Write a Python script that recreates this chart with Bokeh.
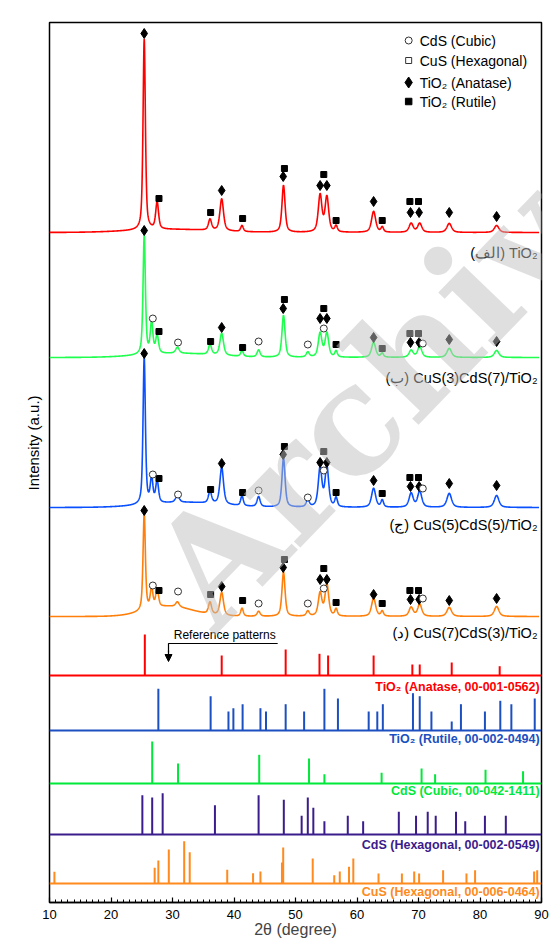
import numpy as np
from bokeh.plotting import figure
from bokeh.models import Range1d, SingleIntervalTicker, Arrow, NormalHead, Title, Label
from bokeh.core.properties import value
from bokeh.embed import file_html
from bokeh.resources import INLINE

# ---------------- data ----------------
# sample patterns: peak positions (2theta, deg), FWHM (deg) and heights (a.u. above baseline)
peak_pos = [25.4, 26.6, 27.5, 30.8, 36.1, 38.0, 41.3, 44.0, 48.05, 52.0, 54.0, 55.1, 56.6, 62.7, 64.1, 68.8, 70.2, 75.0, 82.7]
peak_fwhm = [0.45, 0.5, 0.55, 0.7, 0.6, 0.7, 0.5, 0.6, 0.6, 0.6, 0.7, 0.7, 0.5, 0.8, 0.5, 0.8, 0.8, 0.9, 0.9]
h_tio2 = [191, 0, 27, 0, 11, 32, 6, 0, 47, 0, 37, 35, 6, 21, 5, 9, 9, 9, 7]
h_cus3 = [119, 31, 18, 6, 10, 22, 6, 7, 42, 5, 24, 24, 6, 15, 4, 7, 11, 9, 7]
h_cus5 = [147, 25, 22, 7, 12, 37, 10, 10, 49, 7, 39, 40, 9, 19, 7, 14, 16, 14, 12]
h_cus7 = [97, 20, 18, 5, 12, 23, 8, 5, 44, 5, 23, 32, 7, 18, 5, 9, 12, 9, 10]
# stacking offsets (baseline) and broad amorphous hump (height, centre, width)
base_tio2, base_cus3, base_cus5, base_cus7 = 670, 545, 395, 286
hump_tio2, hump_cus3, hump_cus5, hump_cus7 = (3, 30, 16), (4, 31, 14), (5, 32, 14), (10, 29.5, 9)

# phase markers on the sample patterns: (2theta, stacked intensity)
A_x = [25.4, 38.0, 48.0, 54.0, 55.1, 62.7, 68.7, 70.1, 75.0, 82.7]
R_x = [27.8, 36.2, 41.4, 48.2, 54.6, 56.6, 64.1, 68.6, 70.0]
C_x = [26.8, 30.9, 44.0, 52.0, 54.6, 70.7]
A_y_tio2 = [869, 712, 726, 717, 717, 701, 690, 690, 690, 686]
R_y_tio2 = [704, 690, 684, 734, 728, 682, 682, 701, 701]
A_y_cus3 = [672, 575, 594, 584, 584, 565, 560, 560, 563, 561]
R_y_cus3 = [571, 561, 555, 603, 594, 558, 554, 569, 569]
C_y_cus3 = [584, 560, 561, 558, 574, 559]
A_y_cus5 = [549, 439, 448, 440, 440, 422, 416, 416, 419, 417]
R_y_cus5 = [424, 413, 410, 456, 451, 410, 409, 425, 425]
C_y_cus5 = [428, 408, 412, 405, 432, 414]
A_y_cus7 = [392, 316, 335, 323, 323, 308, 303, 303, 302, 304]
R_y_cus7 = [312, 308, 302, 343, 334, 300, 299, 312, 312]
C_y_cus7 = [317, 311, 299, 299, 314, 304]

# reference patterns (stick positions, stick heights, baseline offset)
anatase_x = [25.5, 38.0, 48.4, 53.9, 55.3, 62.7, 69.0, 70.2, 75.4, 83.2]
anatase_h = [41, 20, 26, 21.7, 20, 20, 11, 11, 13, 9.3]
rutile_x = [27.7, 36.2, 39.1, 39.9, 41.4, 44.3, 45.2, 48.4, 51.4, 54.7, 56.9, 61.9, 63.3, 64.2,
            69.1, 70.2, 72.1, 75.4, 76.9, 80.8, 83.3, 85.1, 88.9]
rutile_h = [41.7, 34.3, 19, 22.3, 26.3, 22.3, 19, 26.3, 19, 41.7, 32, 19, 19, 26.3,
            37.3, 34.3, 19, 9, 26.3, 19, 29.7, 26.3, 32]
cdsc_x = [26.7, 30.9, 44.1, 52.2, 54.7, 64.0, 70.5, 72.7, 80.9, 87.0]
cdsc_h = [42, 20, 28.7, 25, 9.3, 10.7, 15, 9.3, 13.7, 12.3]
cdsh_x = [25.1, 26.7, 28.4, 36.9, 44.0, 48.1, 51.0, 52.0, 52.9, 54.7, 58.5, 61.0, 66.8, 69.6,
          71.5, 72.8, 76.1, 77.6, 80.8, 84.2]
cdsh_h = [39.3, 37, 41.3, 29.3, 39.3, 34.7, 18.7, 37, 26.7, 13.3, 18.7, 13.3, 22.7, 18.7,
          22.7, 18.7, 22.7, 13.3, 18.7, 18.7]
cus_x = [10.8, 27.1, 27.7, 29.4, 31.9, 32.8, 38.9, 43.1, 44.3, 47.8, 48.0, 52.8, 56.3, 57.2,
         58.7, 59.4, 63.5, 67.3, 69.3, 70.1, 74.0, 77.8, 79.2, 88.8, 89.3]
cus_h = [11.7, 15.7, 23, 34, 42.3, 31.3, 13.7, 10.3, 12, 21, 36, 25, 8.3, 12,
         16.7, 25, 10, 10, 12, 10, 13.3, 10, 13.3, 12, 13.3]
ref_bases = [227, 172, 119, 68, 19]
ref_label_y = [216, 164, 112, 58, 11]

sample_labels = ["(الف) TiO₂", "(ب) CuS(3)CdS(7)/TiO₂", "(ج) CuS(5)CdS(5)/TiO₂", "(د) CuS(7)CdS(3)/TiO₂"]
sample_label_y = [650, 525, 378, 270]
ref_labels = ["TiO₂ (Anatase, 00-001-0562)", "TiO₂ (Rutile, 00-002-0494)", "CdS (Cubic, 00-042-1411)",
              "CdS (Hexagonal, 00-002-0549)", "CuS (Hexagonal, 00-006-0464)"]
legend_labels = ["CdS (Cubic)", "CuS (Hexagonal)", "TiO₂ (Anatase)", "TiO₂ (Rutile)"]

# ---------------- styles ----------------
sample_colors = ["#ff0000", "#1eff4e", "#0a50ff", "#ff7f0a"]
ref_colors = ["#ff0000", "#1c4fc0", "#00e83a", "#3a1c8c", "#ff8a1e"]
FONT = "Liberation Sans"

p = figure(width=557, height=940, x_range=Range1d(10, 90), y_range=Range1d(0, 880),
           output_backend="svg", toolbar_location=None,
           min_border_left=49, min_border_right=16, min_border_top=22, min_border_bottom=38)
p.background_fill_color = "white"
p.border_fill_color = "white"
p.outline_line_color = "black"
p.outline_line_width = 1.5
p.xgrid.visible = False
p.ygrid.visible = False
p.yaxis.visible = False

ax = p.xaxis[0]
ax.ticker = SingleIntervalTicker(interval=10, num_minor_ticks=10)
ax.major_tick_in = 5
ax.major_tick_out = 0
ax.minor_tick_in = 3
ax.minor_tick_out = 0
ax.axis_line_width = 1.5
ax.major_tick_line_width = 1.2
ax.major_label_text_font = FONT
ax.major_label_text_font_size = "13px"
ax.major_label_text_color = "black"
ax.major_label_standoff = 7
ax.axis_label = "2θ (degree)"
ax.axis_label_text_font = FONT
ax.axis_label_text_font_size = "16px"
ax.axis_label_text_font_style = "normal"
ax.axis_label_standoff = -1

# ---------------- sample patterns ----------------
x = np.linspace(10.0, 89.6, 2400)


def pattern(heights, base, hump):
    y = np.full_like(x, float(base))
    hh, hc, hw = hump
    y += hh * np.exp(-4 * np.log(2) * ((x - hc) / hw) ** 2)
    for pos, w, h in zip(peak_pos, peak_fwhm, heights):
        lor = 1.0 / (1.0 + ((x - pos) / (w / 2)) ** 2)
        gau = np.exp(-4 * np.log(2) * ((x - pos) / w) ** 2)
        y += h * (0.6 * lor + 0.4 * gau)
    return y


samples = [(h_tio2, base_tio2, hump_tio2), (h_cus3, base_cus3, hump_cus3),
           (h_cus5, base_cus5, hump_cus5), (h_cus7, base_cus7, hump_cus7)]
for (hs, b, hm), col, lab, ly in zip(samples, sample_colors, sample_labels, sample_label_y):
    p.line(x, pattern(hs, b, hm), line_color=col, line_width=1.6)
    p.text(x=[89.35], y=[ly], text=[lab], text_align="right", text_baseline="middle",
           text_font=value(FONT), text_font_size="14.5px", text_color="black")

marker_sets = [
    (A_y_tio2, R_y_tio2, None), (A_y_cus3, R_y_cus3, C_y_cus3),
    (A_y_cus5, R_y_cus5, C_y_cus5), (A_y_cus7, R_y_cus7, C_y_cus7)]
for ay, ry, cy in marker_sets:
    p.scatter(A_x, ay, marker="diamond", size=10, fill_color="black", line_color="black")
    p.scatter(R_x, ry, marker="square", size=6, fill_color="black", line_color="black")
    if cy is not None:
        p.scatter(C_x, cy, marker="circle", size=7, fill_color="white", line_color="#333333", line_width=1)

# ---------------- reference patterns ----------------
refs = [(anatase_x, anatase_h), (rutile_x, rutile_h), (cdsc_x, cdsc_h), (cdsh_x, cdsh_h), (cus_x, cus_h)]
for (rx, rh), b, col, lab, ly in zip(refs, ref_bases, ref_colors, ref_labels, ref_label_y):
    p.segment(x0=[10], y0=[b], x1=[90], y1=[b], line_color=col, line_width=2)
    p.segment(x0=rx, y0=[b] * len(rx), x1=rx, y1=[b + h for h in rh], line_color=col, line_width=2)
    p.text(x=[89.7], y=[ly], text=[lab], text_align="right", text_baseline="middle",
           text_font=value(FONT), text_font_size="12.5px", text_font_style="bold", text_color=col)

# "Reference patterns" note with arrow
p.text(x=[30.2], y=[268], text=["Reference patterns"], text_align="left", text_baseline="middle",
       text_font=value(FONT), text_font_size="12px", text_color="black")
p.line([47.1, 29.35, 29.35], [259, 259, 250], line_color="black", line_width=1.2)

# ---------------- legend ----------------
leg_y = [862, 842, 820, 801]
p.scatter([68.4], [leg_y[0]], marker="circle", size=7, fill_color="white", line_color="#333333")
p.scatter([68.4], [leg_y[1]], marker="square", size=6, fill_color="white", line_color="#333333")
p.scatter([68.4], [leg_y[2]], marker="diamond", size=11, fill_color="black", line_color="black")
p.scatter([68.4], [leg_y[3]], marker="square", size=6.5, fill_color="black", line_color="black")
p.text(x=[70.2] * 4, y=leg_y, text=legend_labels, text_align="left", text_baseline="middle",
       text_font=value(FONT), text_font_size="14px", text_color="black")

# ---------------- annotations ----------------
p.add_layout(Arrow(x_start=29.35, y_start=252, x_end=29.35, y_end=241, line_color="black", line_width=1.2,
                   end=NormalHead(size=7, fill_color="black", line_color="black")))
# y axis title (starts 412 px above the bottom of the frame)
p.add_layout(Title(text="Intensity (a.u.)", align="left", offset=412, standoff=15,
                   text_font=FONT, text_font_size="15px", text_font_style="normal",
                   text_color="black"), "left")
# watermark, semi-transparent over the data
p.add_layout(Label(x=66.75, y=533, text="Archive", angle=46, angle_units="deg",
                   text_align="center", text_baseline="middle",
                   text_font="DejaVu Serif", text_font_style="bold", text_font_size="150px",
                   text_color="#c0c0c0", text_alpha=0.5))

open("out.html", "w").write(file_html(p, INLINE))
